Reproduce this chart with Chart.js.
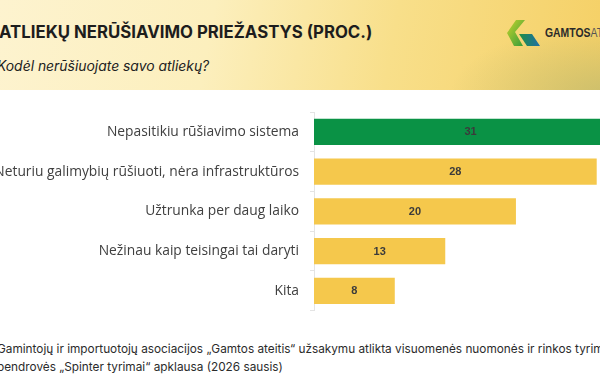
<!DOCTYPE html>
<html lang="lt">
<head>
<meta charset="utf-8">
<script src="https://cdn.jsdelivr.net/npm/chart.js@4.4.1/dist/chart.umd.min.js"></script>
<style>
  html, body { margin: 0; padding: 0; }
  body { width: 600px; height: 390px; overflow: hidden; position: relative; background: #fff; font-family: Inter, sans-serif; }
  .header {
    position: absolute; left: 0; top: 0; width: 600px; height: 90px;
    background:
      radial-gradient(ellipse 160px 70px at 610px 95px, rgba(190,185,110,0.75), rgba(190,185,110,0) 100%),
      linear-gradient(100deg, #fdf3cf 0%, #fcefbd 35%, #f8df8a 65%, #f5d066 100%);
  }
  .title { position: absolute; left: -1px; top: 22px; font: 700 16.8px Inter, sans-serif; color: #1d1d1d; white-space: nowrap; }
  .subtitle { position: absolute; left: -3px; top: 58px; font: italic 400 13.9px Inter, sans-serif; color: #222; white-space: nowrap; }
  .logo { position: absolute; left: 506px; top: 20px; }
  .logotext { position: absolute; left: 545px; top: 25px; font: 700 13px "Liberation Sans", Arial, sans-serif; color: #2a2a2a; white-space: nowrap; transform: scaleX(0.8); transform-origin: 0 0; }
  .logotext span { font-weight: 400; color: #555; }
  #wrap { position: absolute; left: -30px; top: 90px; width: 680px; height: 240px; }
  .footer { position: absolute; left: -3px; top: 340px; font: 400 11.8px Inter, sans-serif; color: #2b2b2b; line-height: 18px; white-space: nowrap; }
</style>
</head>
<body>
<div class="header">
  <div class="title">ATLIEKŲ NERŪŠIAVIMO PRIEŽASTYS (PROC.)</div>
  <div class="subtitle">Kodėl nerūšiuojate savo atliekų?</div>
  <svg class="logo" width="36" height="28" viewBox="0 0 36 28">
    <defs>
      <linearGradient id="g1" x1="0" y1="0" x2="1" y2="1">
        <stop offset="0" stop-color="#c8d42a"/>
        <stop offset="1" stop-color="#2e9a3c"/>
      </linearGradient>
      <linearGradient id="g2" x1="0" y1="0" x2="1" y2="0">
        <stop offset="0" stop-color="#1f8f45"/>
        <stop offset="1" stop-color="#1f6fa6"/>
      </linearGradient>
    </defs>
    <polygon points="10,0 19,0 9,12 17,26 8,26 1,13" fill="url(#g1)"/>
    <polygon points="13,14 26,14 34,26 21,26" fill="url(#g2)"/>
  </svg>
  <div class="logotext">GAMTOS<span>ATEITIS</span></div>
</div>

<div id="wrap"><canvas id="chart"></canvas></div>

<div class="footer">
  Gamintojų ir importuotojų asociacijos „Gamtos ateitis“ užsakymu atlikta visuomenės nuomonės ir rinkos tyrimų<br>
  bendrovės „Spinter tyrimai“ apklausa (2026 sausis)
</div>

<script>
const categories = [
    'Nepasitikiu rūšiavimo sistema',
    'Neturiu galimybių rūšiuoti, nėra infrastruktūros',
    'Užtrunka per daug laiko',
    'Nežinau kaip teisingai tai daryti',
    'Kita'
];
const values = [31, 28, 20, 13, 8];
const barColors = ['#0a9245', '#f5c84c', '#f5c84c', '#f5c84c', '#f5c84c'];

// Etiketės su reikšmėmis stulpelių viduryje
const valueLabels = {
    id: 'valueLabels',
    afterDatasetsDraw(chart) {
        const ctx = chart.ctx;
        const meta = chart.getDatasetMeta(0);
        ctx.save();
        ctx.font = 'bold 11px "Liberation Sans", Arial, sans-serif';
        ctx.fillStyle = '#3b3b3b';
        ctx.textAlign = 'center';
        ctx.textBaseline = 'middle';
        meta.data.forEach((bar, i) => {
            const cx = (bar.x + bar.base) / 2;
            ctx.fillText(values[i], cx, bar.y + 0.5);
        });
        ctx.restore();
    }
};

new Chart(document.getElementById('chart'), {
    type: 'bar',
    data: {
        labels: categories,
        datasets: [{
            data: values,
            backgroundColor: barColors,
            borderWidth: 0,
            categoryPercentage: 0.66,
            barPercentage: 1
        }]
    },
    options: {
        indexAxis: 'y',
        responsive: true,
        maintainAspectRatio: false,
        animation: false,
        layout: { padding: { top: 22, right: 23, bottom: 6, left: 0 } },
        plugins: {
            legend: { display: false },
            tooltip: { enabled: false }
        },
        scales: {
            x: {
                display: false,
                min: 0,
                max: 31
            },
            y: {
                afterFit(scale) { scale.width = 344; },
                border: { display: true, color: '#e4e4e4', width: 1 },
                grid: {
                    offset: true,
                    drawOnChartArea: false,
                    drawTicks: true,
                    tickLength: 4,
                    color: '#e4e4e4'
                },
                ticks: {
                    padding: 11,
                    color: '#404040',
                    font: { family: '"Open Sans", sans-serif', size: 13.8 }
                }
            }
        }
    },
    plugins: [valueLabels]
});
</script>
</body>
</html>
